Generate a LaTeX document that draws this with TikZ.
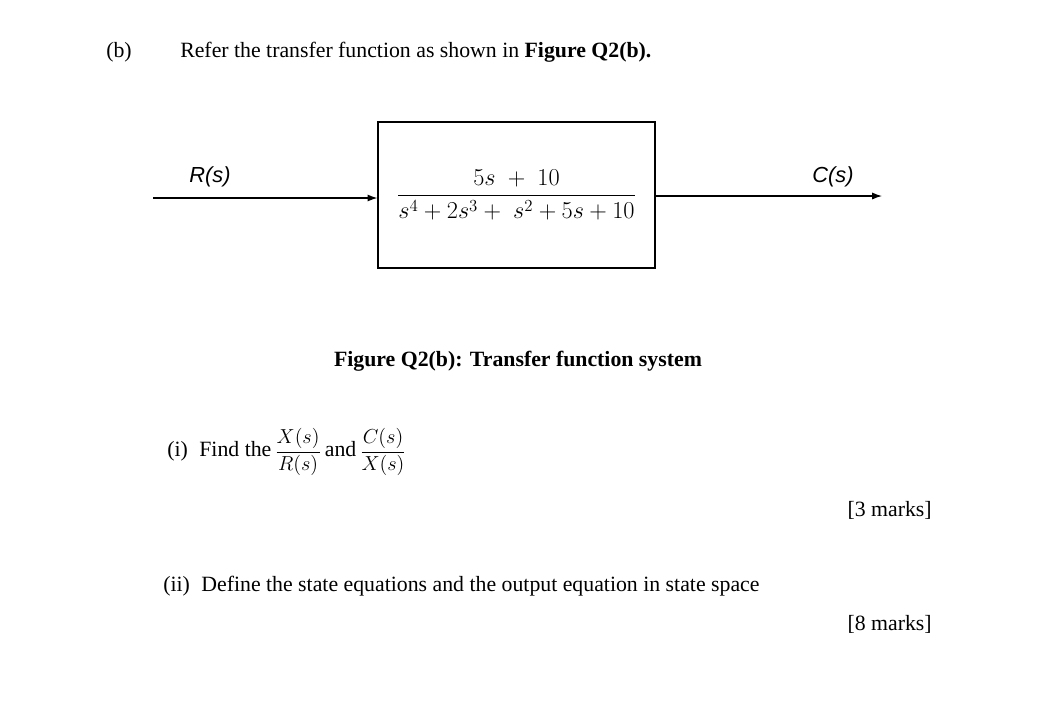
\documentclass[tikz,border=0pt]{standalone}
\usepackage{amsmath}
\usepackage{fontspec}
\setmainfont{Liberation Serif}
\setsansfont{Liberation Sans}
\usetikzlibrary{arrows.meta}
\tikzset{
  txt/.style={inner sep=0pt, font=\fontsize{15.5}{18}\selectfont},
  sig/.style={-{Latex[length=7pt,width=5pt]}, thick},
  tfbox/.style={draw, thick, minimum width=6.925cm, minimum height=3.65cm, inner sep=0pt}
}
\begin{document}
\begin{tikzpicture}[x=0.025cm,y=-0.025cm]
\useasboundingbox (0,0) rectangle (1051,719);

% heading
\node[txt, anchor=west] (part) at (106,52) {(b)};
\node[txt, anchor=west] (intro) at (180,52) {Refer the transfer function as shown in \textbf{Figure Q2(b).}};

% block
\node[tfbox] (plant) at (516.5,195) {\fontsize{16.5}{19}\selectfont$\dfrac{5s\;+\;10}{s^4+2s^3+\;s^2+5s+10}$};
\coordinate (rin) at (153,198);
\coordinate (cout) at (882,196);
\draw[sig] (rin) -- (rin -| plant.west);
\draw[sig] (cout -| plant.east) -- (cout);
\node[txt] (rlab) at (210,177) {\sffamily\itshape R(s)};
\node[txt] (clab) at (833,177) {\sffamily\itshape C(s)};

% caption
\node[txt] (cap) at (518,361) {\textbf{Figure Q2(b): Transfer function system}};

% questions
\node[txt, anchor=west] (q1) at (167,452) {(i)\; Find the\,$\dfrac{X(s)}{R(s)}$\,and\,$\dfrac{C(s)}{X(s)}$};
\node[txt, anchor=east] (m1) at (932,510) {[3 marks]};
\node[txt, anchor=west] (q2) at (163,586) {(ii)\; Define the state equations and the output equation in state space};
\node[txt, anchor=east] (m2) at (932,624) {[8 marks]};
\end{tikzpicture}
\end{document}
